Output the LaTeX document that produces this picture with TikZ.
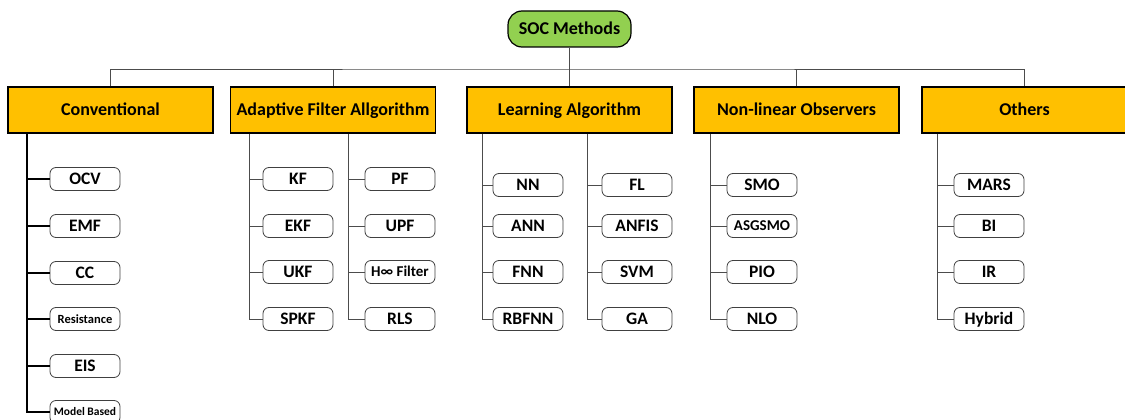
\documentclass[tikz,border=0pt]{standalone}
\usepackage{fontspec}
\setmainfont{Carlito}
\definecolor{rootgreen}{HTML}{92D050}
\definecolor{catfill}{HTML}{FFC000}
\begin{document}
\begin{tikzpicture}[x=1pt,y=-1pt,
  root/.style={draw=black, line width=1.2pt, fill=rootgreen, rounded corners=14pt,
    minimum width=123pt, minimum height=36pt, inner sep=0pt,
    text height=11.5pt, text depth=0pt,
    font=\bfseries\fontsize{18}{20}\selectfont},
  cat/.style={draw=black, line width=1.2pt, fill=catfill, minimum width=205pt,
    minimum height=46pt, inner sep=0pt, text height=11.5pt, text depth=0pt,
    font=\bfseries\fontsize{18}{20}\selectfont},
  leaf/.style={draw=black!75, line width=0.8pt, fill=white, rounded corners=6pt,
    minimum width=70pt, minimum height=23pt, inner sep=0pt,
    text height=11.2pt, text depth=0pt,
    font=\bfseries\fontsize{17.5}{20}\selectfont},
  small/.style={font=\bfseries\fontsize{#1}{#1}\selectfont, text height=0.64*#1 pt},
  link/.style={draw=black!70, line width=0.9pt},
  thick link/.style={draw=black, line width=1.3pt},
]
\useasboundingbox (0,0) rectangle (1125,420);

% root and categories
\node[root] (soc) at (569.5,29) {SOC Methods};
\node[cat] (conv) at (110.5,110) {Conventional};
\node[cat] (adap) at (333,110) {Adaptive Filter Allgorithm};
\node[cat] (learn) at (569.5,110) {Learning Algorithm};
\node[cat] (nonl) at (796.5,110) {Non-linear Observers};
\node[cat] (oth) at (1024.5,110) {Others};

\coordinate (bus) at (569.5,69);
\draw[link] (soc.south) -- (learn.north);
\draw[link] (conv.north) |- (bus) -| (oth.north);
\draw[link] (adap.north) -- (adap.north |- bus);
\draw[link] (nonl.north) -- (nonl.north |- bus);

% trunk x positions
\coordinate (tc) at (27,0);
\coordinate (ta1) at (249,0);
\coordinate (ta2) at (348,0);
\coordinate (tl1) at (482,0);
\coordinate (tl2) at (587,0);
\coordinate (tn) at (710,0);
\coordinate (to) at (937,0);

% Conventional
\node[leaf] (ocv) at (85,179) {OCV};
\node[leaf] (emf) at (85,226) {EMF};
\node[leaf] (cc) at (85,273) {CC};
\node[leaf, small=12.5] (res) at (85,319) {Resistance};
\node[leaf] (eis) at (85,366) {EIS};
\node[leaf, small=11.5] (mb) at (85,412) {Model Based};
\draw[thick link] (conv.south -| tc) |- (mb.west);
\foreach \n in {ocv,emf,cc,res,eis}{\draw[thick link] (\n.west -| tc) -- (\n.west);}

% Adaptive filter
\node[leaf] (kf) at (298,179) {KF};
\node[leaf] (ekf) at (298,226) {EKF};
\node[leaf] (ukf) at (298,272) {UKF};
\node[leaf] (spkf) at (298,319) {SPKF};
\node[leaf] (pf) at (400,179) {PF};
\node[leaf] (upf) at (400,226) {UPF};
\node[leaf, small=15] (hinf) at (400,272) {H∞ Filter};
\node[leaf] (rls) at (400,319) {RLS};
\draw[link] (adap.south -| ta1) |- (spkf.west);
\draw[link] (adap.south -| ta2) |- (rls.west);
\foreach \n in {kf,ekf,ukf}{\draw[link] (\n.west -| ta1) -- (\n.west);}
\foreach \n in {pf,upf,hinf}{\draw[link] (\n.west -| ta2) -- (\n.west);}

% Learning
\node[leaf] (nn) at (528,185) {NN};
\node[leaf] (ann) at (528,226) {ANN};
\node[leaf] (fnn) at (528,272) {FNN};
\node[leaf] (rbf) at (528,319) {RBFNN};
\node[leaf] (fl) at (637,185) {FL};
\node[leaf] (anfis) at (637,226) {ANFIS};
\node[leaf] (svm) at (637,272) {SVM};
\node[leaf] (ga) at (637,319) {GA};
\draw[link] (learn.south -| tl1) |- (rbf.west);
\draw[link] (learn.south -| tl2) |- (ga.west);
\foreach \n in {nn,ann,fnn}{\draw[link] (\n.west -| tl1) -- (\n.west);}
\foreach \n in {fl,anfis,svm}{\draw[link] (\n.west -| tl2) -- (\n.west);}

% Non-linear observers
\node[leaf] (smo) at (762,185) {SMO};
\node[leaf, small=15] (asg) at (762,226) {ASGSMO};
\node[leaf] (pio) at (762,272) {PIO};
\node[leaf] (nlo) at (762,319) {NLO};
\draw[link] (nonl.south -| tn) |- (nlo.west);
\foreach \n in {smo,asg,pio}{\draw[link] (\n.west -| tn) -- (\n.west);}

% Others
\node[leaf] (mars) at (989,185) {MARS};
\node[leaf] (bi) at (989,226) {BI};
\node[leaf] (ir) at (989,272) {IR};
\node[leaf] (hyb) at (989,319) {Hybrid};
\draw[link] (oth.south -| to) |- (hyb.west);
\foreach \n in {mars,bi,ir}{\draw[link] (\n.west -| to) -- (\n.west);}
\end{tikzpicture}
\end{document}
